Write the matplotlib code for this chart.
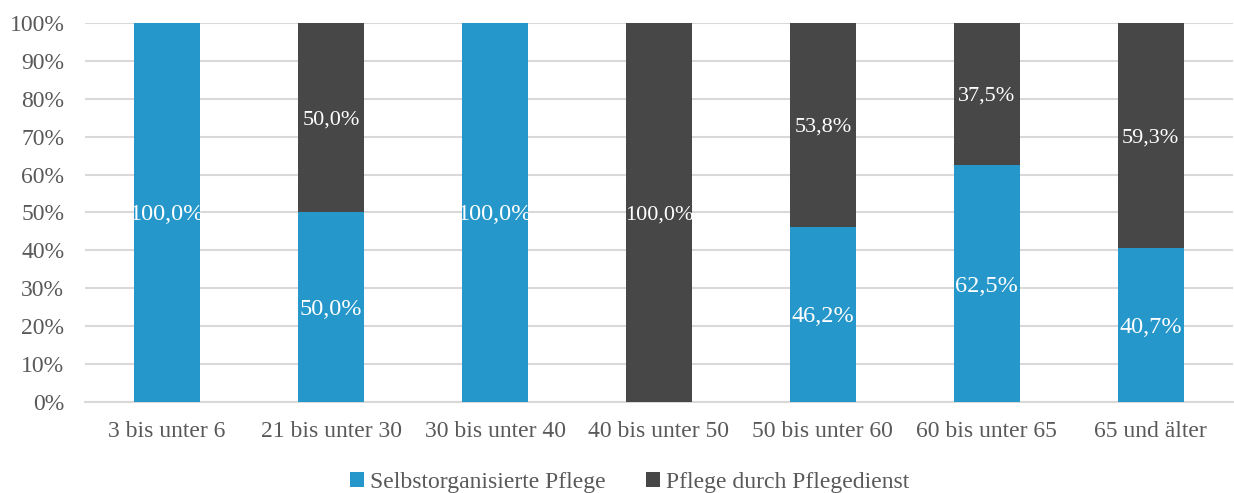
import matplotlib.pyplot as plt
import numpy as np

plt.rcParams['font.family'] = ['Liberation Serif', 'DejaVu Serif']

categories = ['3 bis unter 6', '21 bis unter 30', '30 bis unter 40', '40 bis unter 50',
              '50 bis unter 60', '60 bis unter 65', '65 und älter']
selbst = [100.0, 50.0, 100.0, 0.0, 46.2, 62.5, 40.7]
dienst = [0.0, 50.0, 0.0, 100.0, 53.8, 37.5, 59.3]
series_names = ['Selbstorganisierte Pflege', 'Pflege durch Pflegedienst']

blue = '#2697CB'
gray = '#474747'
txt = '#595959'

fig = plt.figure(figsize=(12.34, 4.93), dpi=100)
ax = fig.add_axes([0.069, 0.1846, 0.93, 0.7688])

x = np.arange(len(categories))
w = 0.4
b1 = ax.bar(x, selbst, w, color=blue, label=series_names[0], zorder=3)
b2 = ax.bar(x, dienst, w, bottom=selbst, color=gray, label=series_names[1], zorder=3)

def fmt(v):
    return f'{v:.1f}'.replace('.', ',') + '%'

for i in range(len(categories)):
    if selbst[i] > 0:
        ax.text(x[i], selbst[i] / 2, fmt(selbst[i]), ha='center', va='center_baseline',
                color='white', fontsize=17.5, zorder=4)
    if dienst[i] > 0:
        ax.text(x[i], selbst[i] + dienst[i] / 2, fmt(dienst[i]), ha='center',
                va='center_baseline', color='white', fontsize=16, zorder=4)

ax.set_xlim(-0.5, len(categories) - 0.5)
ax.set_ylim(0, 100)
ax.set_yticks(range(0, 101, 10))
ax.set_yticklabels([f'{v}%' for v in range(0, 101, 10)])
ax.set_xticks(x)
ax.set_xticklabels(categories)
ax.tick_params(axis='both', length=0, labelsize=17, colors=txt)
ax.tick_params(axis='x', pad=14)
ax.tick_params(axis='y', pad=15)
ax.yaxis.grid(True, color='#d9d9d9', linewidth=1.5, zorder=0)
for s in ['top', 'right', 'left']:
    ax.spines[s].set_visible(False)
ax.spines['bottom'].set_color('#d9d9d9')
ax.spines['bottom'].set_linewidth(1.5)

leg = fig.legend(handles=[b1, b2], loc='center', bbox_to_anchor=(0.51, 0.022),
                 ncol=2, frameon=False, fontsize=17, handlelength=0.6, handleheight=0.6,
                 columnspacing=1.7, handletextpad=0.25)
for t in leg.get_texts():
    t.set_color(txt)

fig.savefig('out.png', dpi=100)
